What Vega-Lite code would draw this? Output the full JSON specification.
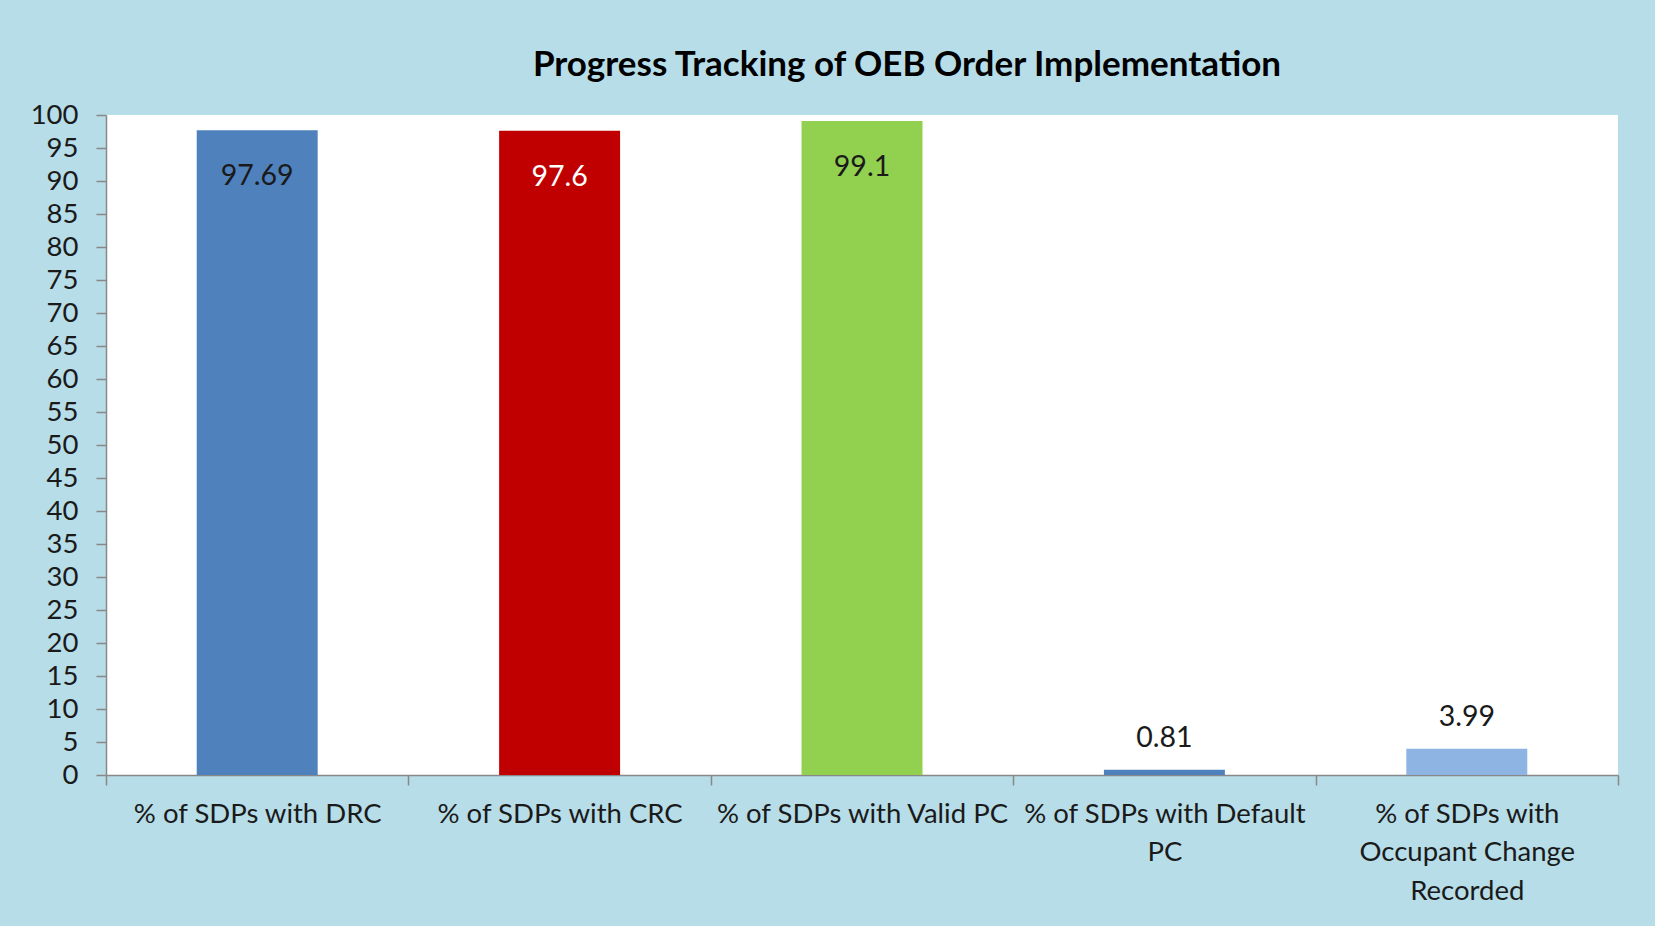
{
  "$schema": "https://vega.github.io/schema/vega-lite/v6.json",
  "autosize": {"type": "none"},
  "width": 1512,
  "height": 660,
  "padding": {"left": 106, "top": 115, "right": 37, "bottom": 151},
  "background": "#B7DDE8",
  "title": {
    "text": "Progress Tracking of OEB Order Implementation",
    "font": "Lato",
    "fontSize": 35,
    "fontWeight": "bold",
    "color": "#000000",
    "anchor": "middle",
    "dx": 45,
    "offset": 18
  },
  "data": {
    "values": [
      {"category": "% of SDPs with DRC", "value": 97.69},
      {"category": "% of SDPs with CRC", "value": 97.6},
      {"category": "% of SDPs with Valid PC", "value": 99.1},
      {"category": "% of SDPs with Default PC", "value": 0.81},
      {"category": "% of SDPs with Occupant Change Recorded", "value": 3.99}
    ]
  },
  "encoding": {
    "x": {
      "field": "category",
      "type": "nominal",
      "sort": null,
      "scale": {"paddingInner": 0, "paddingOuter": 0},
      "axis": {
        "title": null,
        "labelAngle": 0,
        "labelFont": "Lato",
        "labelFontSize": 27.5,
        "labelColor": "#1a1a1a",
        "labelPadding": 15,
        "labelLineHeight": 38.5,
        "labelBaseline": "top",
        "labelLimit": 400,
        "tickBand": "extent",
        "tickSize": 10,
        "tickColor": "#888888",
        "domainColor": "#888888",
        "domainWidth": 1.5,
        "tickWidth": 1.5,
        "labelExpr": "datum.value == '% of SDPs with Default PC' ? ['% of SDPs with Default', 'PC'] : datum.value == '% of SDPs with Occupant Change Recorded' ? ['% of SDPs with', 'Occupant Change', 'Recorded'] : datum.value"
      }
    },
    "y": {
      "field": "value",
      "type": "quantitative",
      "scale": {"domain": [0, 100], "nice": false},
      "axis": {
        "title": null,
        "values": [0, 5, 10, 15, 20, 25, 30, 35, 40, 45, 50, 55, 60, 65, 70, 75, 80, 85, 90, 95, 100],
        "grid": false,
        "labelFont": "Lato",
        "labelFontSize": 27.5,
        "labelColor": "#1a1a1a",
        "labelPadding": 18,
        "tickSize": 10,
        "tickColor": "#888888",
        "domainColor": "#888888",
        "domainWidth": 1.5,
        "tickWidth": 1.5
      }
    }
  },
  "layer": [
    {
      "mark": {"type": "bar", "width": {"band": 0.4}},
      "encoding": {
        "color": {
          "field": "category",
          "type": "nominal",
          "legend": null,
          "scale": {
            "domain": ["% of SDPs with DRC", "% of SDPs with CRC", "% of SDPs with Valid PC", "% of SDPs with Default PC", "% of SDPs with Occupant Change Recorded"],
            "range": ["#4F81BD", "#C00000", "#92D050", "#4F81BD", "#8DB4E2"]
          }
        }
      }
    },
    {
      "transform": [{"filter": "datum.value >= 50"}],
      "mark": {"type": "text", "font": "Lato", "fontSize": 28.5, "baseline": "middle", "dy": 46},
      "encoding": {
        "text": {"field": "value", "type": "quantitative"},
        "color": {
          "condition": {"test": "datum.category == '% of SDPs with CRC'", "value": "#ffffff"},
          "value": "#1a1a1a"
        }
      }
    },
    {
      "transform": [{"filter": "datum.value < 50"}],
      "mark": {"type": "text", "font": "Lato", "fontSize": 28.5, "baseline": "middle", "dy": -32, "color": "#1a1a1a"},
      "encoding": {
        "text": {"field": "value", "type": "quantitative"}
      }
    }
  ],
  "config": {
    "view": {"fill": "#ffffff", "stroke": null}
  }
}
